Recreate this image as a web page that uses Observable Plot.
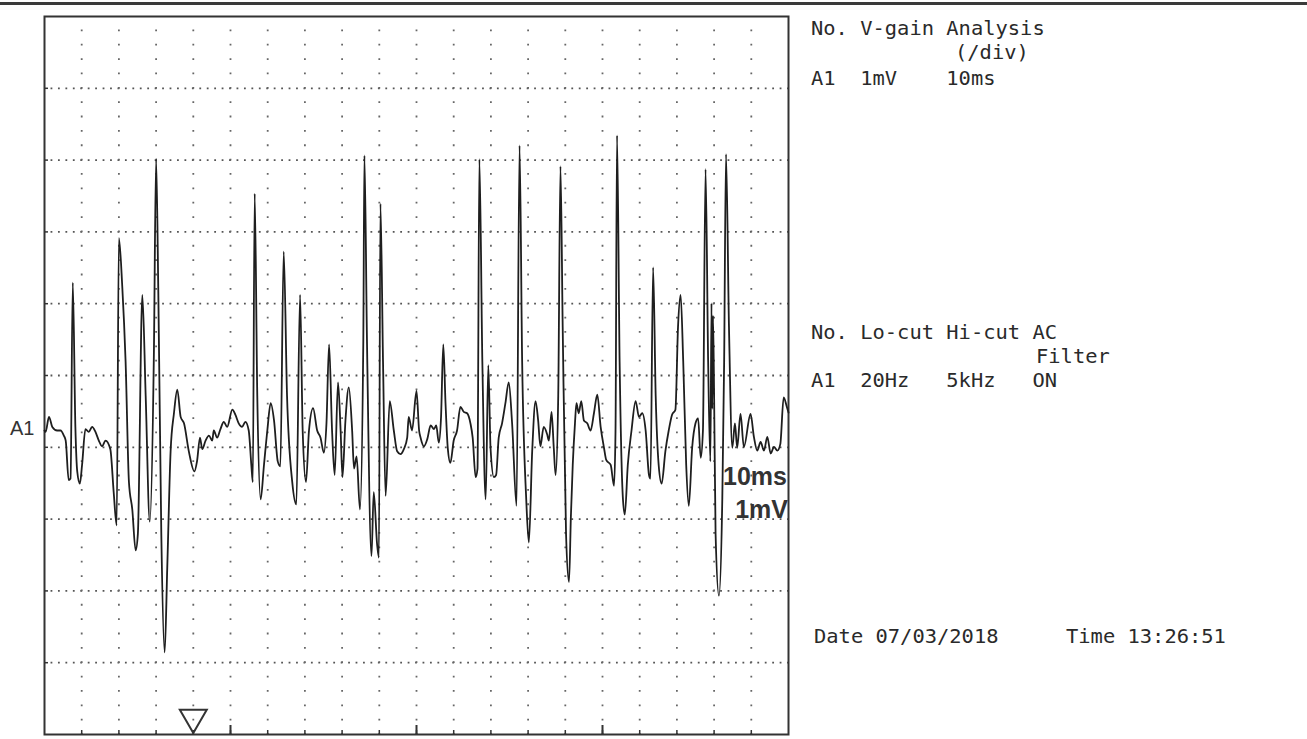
<!DOCTYPE html>
<html><head><meta charset="utf-8">
<script src="https://cdn.jsdelivr.net/npm/d3@7"></script>
<script src="https://cdn.jsdelivr.net/npm/@observablehq/plot@0.6"></script>
<style>
html,body{margin:0;padding:0;background:#fff;overflow:hidden;}
#wrap{position:relative;width:1307px;height:739px;}
#wrap svg{display:block;}
#overlay{position:absolute;left:0;top:0;pointer-events:none;}
</style></head><body><div id="wrap"></div>
<script>
// ---- data (time in ms, amplitude in mV) ----
const timeMs = [0.0,0.3,1.2,2.1,3.4,4.3,5.2,5.7,6.5,7.0,7.6,8.3,8.8,9.5,10.1,11.0,11.9,12.8,13.7,14.6,15.5,16.4,17.7,18.6,19.4,
20.0,20.9,21.8,22.7,23.6,24.5,25.1,26.3,27.2,28.3,29.4,30.0,30.6,31.4,32.3,33.0,33.9,34.8,35.7,36.6,37.5,38.8,40.3,41.0,41.8,
42.4,43.3,44.2,45.1,45.5,46.4,47.3,48.2,49.1,50.5,51.3,52.2,53.1,54.0,54.9,55.6,56.0,56.5,57.2,58.1,59.0,59.9,60.8,61.7,62.7,
63.4,64.3,65.2,66.6,67.7,68.7,69.4,70.3,71.1,72.2,73.3,74.2,75.1,75.8,76.5,77.3,78.0,78.9,79.6,80.1,80.9,81.8,82.7,83.2,83.9,
84.8,85.7,86.0,86.7,87.9,88.5,89.4,89.9,90.3,91.0,91.7,92.8,93.9,94.8,95.7,96.6,97.5,97.9,98.8,100.0,100.7,101.1,102.0,102.9,
103.8,104.7,105.3,106.0,106.6,107.2,107.8,108.4,109.1,110.0,110.9,111.8,112.7,113.6,114.5,115.1,115.9,116.4,116.9,117.7,118.6,
119.3,119.9,120.8,121.4,122.1,123.0,123.9,124.8,125.7,126.9,127.7,128.4,129.5,130.2,131.1,132.0,132.7,133.3,134.2,135.1,135.6,
136.3,136.9,137.4,138.1,138.7,139.3,140.2,141.0,141.5,142.0,142.6,143.0,143.6,144.3,145.0,145.9,146.8,147.7,148.6,149.5,150.4,
151.0,152.2,153.1,153.5,153.9,154.6,155.5,156.0,156.8,157.8,158.9,159.8,160.7,161.6,162.5,162.9,163.6,164.3,165.1,165.9,166.9,
167.8,168.7,169.6,170.3,171.0,171.7,172.5,173.2,174.1,175.0,175.7,176.4,177.0,177.7,178.4,179.0,179.3,179.5,179.7,180.0,180.4,
181.3,182.2,182.7,183.2,184.0,184.9,185.6,186.2,187.1,188.0,189.8,190.7,191.6,192.5,193.4,194.3,195.2,196.1,197.0,197.8,198.7,
199.6,200.0];
const amplitudeMv = [0.0,-0.02,0.19,0.05,0.0,0.0,-0.07,-0.14,-0.69,-0.67,2.06,0.05,-0.57,-0.74,-0.48,0.02,-0.02,0.05,-0.02,-0.14,-0.22,-0.14,-0.26,-0.86,-1.32,
2.68,2.01,0.96,-0.72,-1.10,-1.67,-1.44,1.89,0.48,-1.27,1.05,3.78,1.91,-1.44,-3.09,-1.91,-0.29,0.24,0.57,0.19,0.10,-0.29,-0.57,-0.43,-0.10,
-0.26,-0.14,-0.07,-0.14,0.0,-0.10,0.02,0.12,0.05,0.29,0.22,0.10,0.05,0.12,0.0,-0.48,-0.72,3.30,0.48,-0.96,-0.48,0.0,0.38,0.14,-0.43,
-0.50,2.49,0.48,-0.72,-1.03,1.89,0.0,-0.72,0.0,0.31,0.0,-0.10,-0.31,0.10,1.20,0.0,-0.62,0.67,0.0,-0.65,0.14,0.60,0.0,-0.53,-0.36,
-1.10,1.24,3.83,1.20,-1.75,-0.86,-1.58,-1.77,3.16,0.96,-0.91,0.41,0.0,-0.29,-0.33,-0.26,-0.10,0.19,0.0,0.55,0.0,-0.10,-0.22,-0.12,
0.07,0.02,0.07,-0.17,0.19,1.20,0.38,-0.24,-0.45,-0.14,0.0,0.33,0.26,0.24,0.10,-0.10,-0.65,-0.53,3.78,0.96,-0.96,
0.91,-0.24,-0.65,-0.62,-0.10,0.10,0.38,0.67,0.10,-1.05,3.97,0.96,-0.96,-1.56,-0.29,0.41,0.14,-0.22,0.05,-0.05,-0.14,
0.26,-0.24,-0.62,0.48,3.68,1.44,-1.44,-2.11,-1.20,-0.48,0.10,0.38,0.24,0.41,0.14,0.10,0.0,0.24,0.50,0.05,-0.24,
-0.41,-0.48,-0.77,0.0,4.11,0.96,-0.96,-1.17,-0.48,0.0,0.41,0.19,0.24,0.0,-0.62,-0.67,2.27,0.48,-0.48,-0.74,-0.29,
0.0,0.22,0.29,1.44,1.89,0.96,-0.48,-1.05,-0.24,0.10,0.17,-0.38,0.0,3.64,0.96,-0.43,1.77,0.30,1.60,0.50,-1.44,
-2.30,-0.96,0.96,3.85,1.44,-0.24,0.10,-0.24,0.23,-0.23,0.23,-0.09,-0.28,-0.16,-0.28,-0.09,-0.32,-0.23,-0.28,-0.19,0.46,
0.32,0.25];
const triggerMs = [40];
const majorTickMs = [50, 100, 150];
const channelLabel = "A1";
const gainHeader = ["No.", "V-gain", "Analysis"];
const gainUnit = "(/div)";
const gainRow = ["A1", "1mV", "10ms"];
const filterHeader = ["No.", "Lo-cut", "Hi-cut", "AC"];
const filterSub = "Filter";
const filterRow = ["A1", "20Hz", "5kHz", "ON"];
const recDate = "07/03/2018";
const recTime = "13:26:51";

// ---- chart ----
const trace = timeMs.map((t, i) => ({t, v: amplitudeMv[i]}));
const W = 1307, H = 739, mL = 44, mR = W - 788, mT = 16, mB = H - 734;
const frameW = W - mL - mR, frameH = H - mT - mB;
const xDomain = [0, 200], yDomain = [-4.234, 5.766];
const hGrid = d3.range(1, 10).map(k => yDomain[0] + k);
const vGrid = d3.range(10, 200, 10);
const hPer = frameW / 20 / 5, vPer = frameH / 10 / 5;

const chart = Plot.plot({
  width: W, height: H, marginLeft: mL, marginRight: mR, marginTop: mT, marginBottom: mB,
  x: {domain: xDomain, axis: null},
  y: {domain: yDomain, axis: null},
  style: {background: "#fff"},
  marks: [
    Plot.ruleY(hGrid, {stroke: "#555", strokeWidth: 1.8, strokeDasharray: `1.8 ${hPer - 1.8}`, strokeDashoffset: 0.9}),
    Plot.ruleX(vGrid, {stroke: "#666", strokeWidth: 1.8, strokeDasharray: `1.8 ${vPer - 1.8}`, strokeDashoffset: 0.9}),
    Plot.ruleX(vGrid, {stroke: "#333", strokeWidth: 1.5, insetTop: frameH - 4}),
    Plot.ruleX(majorTickMs, {stroke: "#333", strokeWidth: 2, insetTop: frameH - 9}),
    Plot.ruleY(hGrid, {stroke: "#333", strokeWidth: 1.5, insetRight: frameW - 4}),
    Plot.frame({stroke: "#333", strokeWidth: 2}),
    Plot.line(trace, {x: "t", y: "v", curve: "monotone-x", stroke: "#1e1e1e", strokeWidth: 1.8, strokeLinejoin: "round"}),
    Plot.dot(triggerMs, {x: d => d, frameAnchor: "bottom", symbol: "triangle", rotate: 180, r: 10, dy: -17, stroke: "#333", fill: "none", strokeWidth: 2})
  ]
});
const wrap = document.getElementById("wrap");
wrap.appendChild(chart);

// ---- overlay text ----
const ov = d3.create("svg").attr("id", "overlay").attr("width", W).attr("height", H);
ov.append("line").attr("x1", 0).attr("x2", W).attr("y1", 3.5).attr("y2", 3.5).attr("stroke", "#3a3a3a").attr("stroke-width", 3);

const cols = [0, 4, 11, 18];
const row = parts => parts.map((p, i) => i < parts.length - 1 ? p.padEnd(cols[i + 1] - cols[i]) : p).join("");
const CW = 12.3;
const mono = (x, y, s) => ov.append("text").attr("x", x).attr("y", y)
  .attr("textLength", s.length * CW).attr("lengthAdjust", "spacingAndGlyphs")
  .style("white-space", "pre")
  .attr("font-family", "'DejaVu Sans Mono','Liberation Mono',monospace")
  .attr("font-size", 20.2).attr("fill", "#2a2a2a").text(s);

mono(811, 35, row(gainHeader));
mono(955, 59, gainUnit);
mono(811, 85, row(gainRow));
mono(811, 339, row(filterHeader));
mono(1036, 363, filterSub);
mono(811, 387, row(filterRow));
mono(814, 643, "Date " + recDate);
mono(1066, 643, "Time " + recTime);

ov.append("text").attr("x", 10).attr("y", 435).attr("font-family", "'Liberation Sans',Arial,sans-serif")
  .attr("font-size", 20).attr("fill", "#333").text(channelLabel);
ov.append("text").attr("x", 787).attr("y", 485).attr("text-anchor", "end").attr("font-family", "'Liberation Sans',Arial,sans-serif")
  .attr("font-weight", "bold").attr("font-size", 25).attr("fill", "#333").text(gainRow[2]);
ov.append("text").attr("x", 788).attr("y", 518).attr("text-anchor", "end").attr("font-family", "'Liberation Sans',Arial,sans-serif")
  .attr("font-weight", "bold").attr("font-size", 25).attr("fill", "#333").text(gainRow[1]);

wrap.appendChild(ov.node());
</script></body></html>
